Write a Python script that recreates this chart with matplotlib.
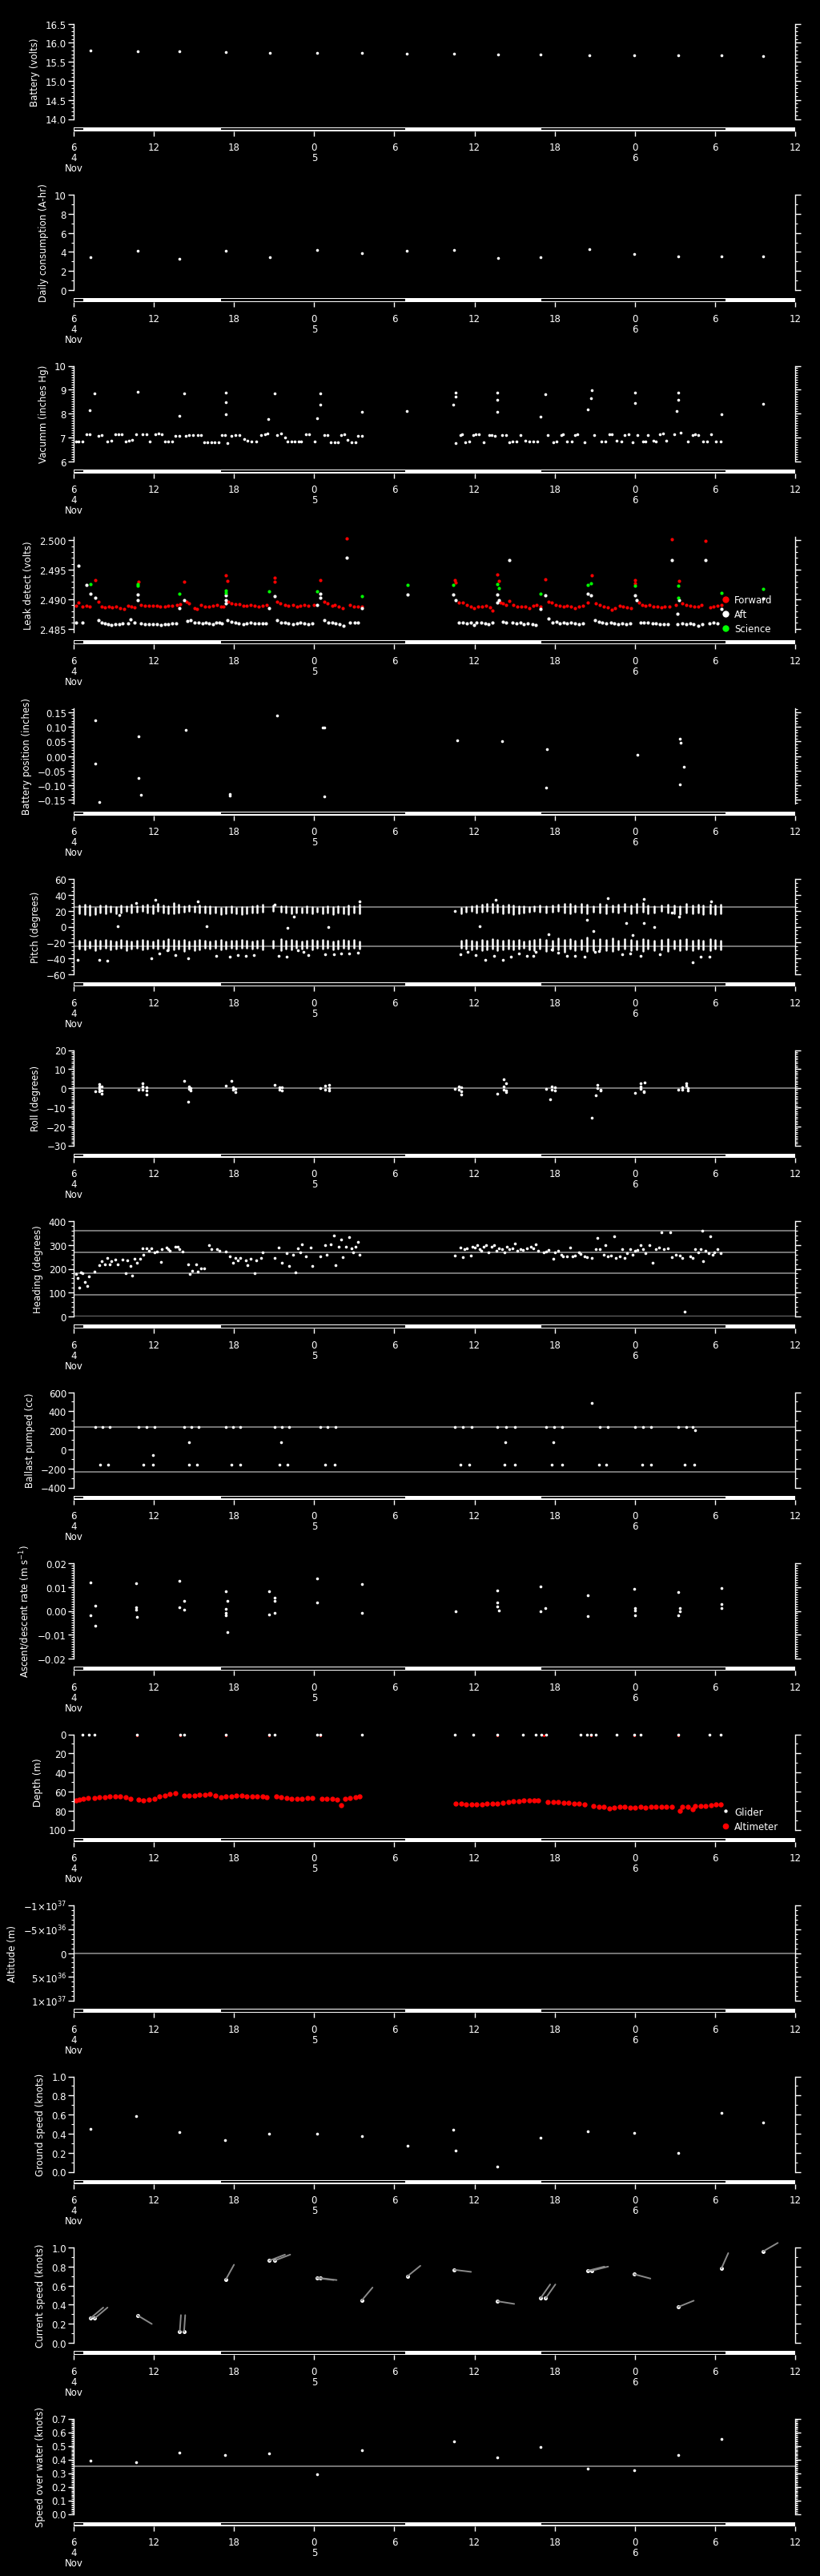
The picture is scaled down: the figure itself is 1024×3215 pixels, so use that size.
import numpy as np
import matplotlib
matplotlib.use('Agg')
import matplotlib.pyplot as plt
from matplotlib.patches import Rectangle
from matplotlib.ticker import MultipleLocator, AutoMinorLocator, FixedLocator, FixedFormatter, FuncFormatter

# time axis in hours since 4 Nov 00:00
T0, T1 = 6, 60
tick_hours = [6, 12, 18, 24, 30, 36, 42, 48, 54, 60]
tick_labels = ['6\n4\nNov', '12', '18', '0\n5', '6', '12', '18', '0\n6', '6', '12']
night_spans = [(6.05, 6.74), (17.03, 30.8), (40.98, 54.79)]

# surfacing times
surf_t = [7.25, 10.77, 13.94, 17.38, 20.67, 24.19, 27.56, 30.96, 34.48, 37.77,
          40.94, 44.58, 47.94, 51.23, 54.47, 57.60]
battery_v = [15.80, 15.77, 15.77, 15.75, 15.74, 15.74, 15.73, 15.71, 15.71, 15.69,
             15.69, 15.68, 15.68, 15.66, 15.66, 15.65]
consumption_v = [3.45, 4.09, 3.30, 4.12, 3.45, 4.20, 3.87, 4.15, 4.20, 3.36,
                 3.45, 4.29, 3.75, 3.53, 3.50, 3.53]

vacuum_pts = [
    (6.16, 6.84), (6.35, 6.84), (6.63, 6.84), (6.94, 7.12), (7.21, 7.12), (7.84, 7.07), (8.11, 7.09),
    (8.50, 6.84), (8.82, 6.85), (9.09, 7.11), (9.37, 7.13), (9.60, 7.14), (9.87, 6.84), (10.15, 6.85),
    (10.38, 6.88), (10.66, 7.12), (11.13, 7.12), (11.44, 7.14), (11.71, 6.84), (12.10, 7.13), (12.34, 7.15),
    (12.61, 7.12), (12.81, 6.82), (13.08, 6.82), (13.40, 6.82), (13.63, 7.07), (13.91, 7.07), (14.37, 7.07),
    (14.65, 7.09), (14.96, 7.09), (15.27, 7.09), (15.55, 7.09), (15.74, 6.80), (16.02, 6.80), (16.29, 6.80),
    (16.57, 6.80), (16.84, 6.80), (17.11, 7.08), (17.31, 7.09), (17.51, 6.74), (17.78, 7.07), (18.09, 7.08),
    (18.40, 7.09), (18.76, 6.93), (19.03, 6.86), (19.31, 6.84), (19.66, 6.84), (20.05, 7.10), (20.32, 7.13),
    (20.52, 7.17), (21.22, 7.10), (21.50, 7.16), (21.81, 6.98), (22.00, 6.84), (22.28, 6.84), (22.55, 6.84),
    (22.83, 6.84), (23.02, 6.84), (23.37, 7.11), (23.65, 7.13), (24.04, 6.84), (24.74, 7.08), (25.02, 7.10),
    (25.21, 6.80), (25.53, 6.80), (25.76, 6.80), (26.00, 7.10), (26.23, 7.14), (26.50, 6.89), (26.78, 6.80),
    (27.09, 6.80), (27.29, 7.07), (27.56, 7.07),
    (34.60, 6.74), (34.92, 7.08), (35.07, 7.12), (35.31, 6.80), (35.58, 6.82), (35.90, 7.08), (36.09, 7.11),
    (36.33, 7.14), (36.68, 6.80), (37.11, 7.09), (37.31, 7.08), (37.50, 7.05), (38.05, 7.08), (38.36, 7.10),
    (38.63, 6.80), (38.83, 6.83), (39.14, 6.83), (39.42, 7.08), (39.81, 6.85), (40.08, 6.82), (40.40, 6.82),
    (40.71, 6.82), (41.49, 7.08), (41.88, 6.80), (42.16, 6.82), (42.47, 7.09), (42.63, 7.14), (42.94, 6.84),
    (43.25, 6.82), (43.53, 7.08), (43.72, 7.12), (44.23, 6.80), (44.97, 7.08), (45.48, 6.82), (45.79, 6.83),
    (46.07, 7.12), (46.27, 7.14), (46.66, 6.86), (46.97, 6.84), (47.24, 7.10), (47.52, 7.14), (47.83, 6.80),
    (48.22, 7.09), (48.61, 6.82), (48.81, 6.84), (49.00, 7.10), (49.40, 6.86), (49.59, 6.83), (49.87, 7.12),
    (50.10, 7.16), (50.37, 6.87), (50.96, 7.12), (51.43, 7.19), (51.94, 6.82), (52.33, 7.10), (52.53, 7.13),
    (52.72, 7.08), (53.11, 6.82), (53.39, 6.82), (53.70, 7.14), (54.09, 6.82), (54.40, 6.82),
    (7.21, 8.12), (7.57, 8.85), (10.77, 8.90), (14.26, 8.84), (13.94, 7.90), (17.39, 8.88), (17.39, 8.47),
    (17.39, 7.98), (20.59, 7.77), (21.03, 8.83), (24.19, 7.80), (24.43, 8.83), (24.43, 8.36), (27.56, 8.07),
    (30.96, 8.11), (34.41, 8.36), (34.60, 8.86), (34.60, 8.72), (37.73, 8.86), (37.73, 8.56), (37.73, 8.08),
    (40.94, 7.85), (41.33, 8.82), (44.50, 8.18), (44.70, 8.63), (44.78, 8.98), (48.02, 8.88), (48.02, 8.45),
    (51.23, 8.88), (51.23, 8.58), (51.15, 8.09), (54.48, 7.95), (57.61, 8.42),
]

forward_pts = [
    (6.16, 2.4889), (6.35, 2.4895), (6.67, 2.4888), (6.94, 2.4889), (7.21, 2.4887), (7.61, 2.4932),
    (7.84, 2.4896), (8.11, 2.4888), (8.31, 2.4886), (8.62, 2.4887), (8.90, 2.4886), (9.17, 2.4888),
    (9.48, 2.4885), (9.76, 2.4884), (10.07, 2.4889), (10.34, 2.4887), (10.54, 2.4886), (10.85, 2.4930),
    (11.05, 2.4890), (11.36, 2.4889), (11.64, 2.4889), (11.91, 2.4889), (12.22, 2.4889), (12.50, 2.4888),
    (12.81, 2.4888), (13.08, 2.4889), (13.40, 2.4889), (13.71, 2.4890), (13.98, 2.4892), (14.26, 2.4930),
    (14.45, 2.4896), (14.65, 2.4893), (15.04, 2.4885), (15.24, 2.4883), (15.55, 2.4890), (15.82, 2.4888),
    (16.14, 2.4887), (16.41, 2.4889), (16.72, 2.4890), (17.00, 2.4887), (17.23, 2.4888), (17.39, 2.4940),
    (17.50, 2.4931), (17.58, 2.4896), (17.78, 2.4893), (18.09, 2.4891), (18.40, 2.4892), (18.68, 2.4889),
    (18.95, 2.4889), (19.27, 2.4890), (19.54, 2.4889), (19.85, 2.4888), (20.13, 2.4889), (20.44, 2.4890),
    (21.03, 2.4936), (21.03, 2.4930), (21.22, 2.4896), (21.46, 2.4893), (21.81, 2.4890), (22.08, 2.4889),
    (22.40, 2.4890), (22.71, 2.4888), (22.98, 2.4889), (23.26, 2.4890), (23.57, 2.4889), (23.96, 2.4890),
    (24.43, 2.4933), (24.74, 2.4896), (25.02, 2.4893), (25.33, 2.4889), (25.53, 2.4890), (25.84, 2.4888),
    (26.11, 2.4885), (26.43, 2.5003), (26.70, 2.4890), (26.97, 2.4888), (27.29, 2.4888), (27.56, 2.4887),
    (34.53, 2.4932), (34.60, 2.4928), (34.84, 2.4894), (35.11, 2.4894), (35.43, 2.4890), (35.70, 2.4887),
    (35.98, 2.4885), (36.29, 2.4887), (36.56, 2.4888), (36.87, 2.4889), (37.19, 2.4886), (37.34, 2.4881),
    (37.73, 2.4942), (37.85, 2.4931), (37.97, 2.4894), (38.12, 2.4893), (38.36, 2.4890), (38.63, 2.4897),
    (38.91, 2.4890), (39.22, 2.4888), (39.53, 2.4887), (39.81, 2.4888), (40.08, 2.4885), (40.40, 2.4889),
    (40.67, 2.4890), (40.94, 2.4888), (41.33, 2.4934), (41.57, 2.4896), (41.80, 2.4894), (42.08, 2.4890),
    (42.35, 2.4889), (42.67, 2.4888), (42.94, 2.4889), (43.21, 2.4887), (43.53, 2.4885), (43.84, 2.4888),
    (44.11, 2.4889), (44.50, 2.4894), (44.78, 2.4940), (45.09, 2.4893), (45.37, 2.4890), (45.68, 2.4888),
    (45.95, 2.4886), (46.27, 2.4882), (46.54, 2.4885), (46.85, 2.4889), (47.13, 2.4887), (47.44, 2.4886),
    (47.71, 2.4885), (48.03, 2.4933), (48.03, 2.4927), (48.30, 2.4894), (48.54, 2.4890), (48.81, 2.4889),
    (49.08, 2.4890), (49.40, 2.4888), (49.67, 2.4887), (49.98, 2.4886), (50.26, 2.4887), (50.57, 2.4888),
    (50.77, 2.5002), (51.04, 2.4890), (51.28, 2.4931), (51.55, 2.4893), (51.82, 2.4890), (52.14, 2.4889),
    (52.45, 2.4887), (52.72, 2.4888), (52.99, 2.4890), (53.31, 2.4999), (53.62, 2.4886), (53.89, 2.4888),
    (54.17, 2.4889), (54.48, 2.4890),
]

aft_pts = [
    (6.16, 2.4860), (6.35, 2.4957), (6.67, 2.4860), (6.94, 2.4924), (7.25, 2.4910), (7.61, 2.4902),
    (7.84, 2.4864), (8.11, 2.4860), (8.31, 2.4859), (8.58, 2.4858), (8.82, 2.4856), (9.09, 2.4857),
    (9.41, 2.4858), (9.68, 2.4859), (10.07, 2.4859), (10.27, 2.4866), (10.54, 2.4860), (10.77, 2.4908),
    (10.81, 2.4899), (11.05, 2.4859), (11.32, 2.4858), (11.64, 2.4857), (11.91, 2.4857), (12.22, 2.4858),
    (12.54, 2.4856), (12.81, 2.4857), (13.08, 2.4858), (13.40, 2.4859), (13.67, 2.4859), (13.94, 2.4885),
    (14.26, 2.4899), (14.49, 2.4863), (14.77, 2.4865), (15.04, 2.4860), (15.35, 2.4861), (15.63, 2.4859),
    (15.86, 2.4860), (16.14, 2.4859), (16.41, 2.4858), (16.68, 2.4860), (16.92, 2.4861), (17.11, 2.4859),
    (17.39, 2.4906), (17.39, 2.4899), (17.39, 2.4893), (17.50, 2.4865), (17.78, 2.4862), (18.09, 2.4860),
    (18.37, 2.4859), (18.68, 2.4858), (18.95, 2.4859), (19.27, 2.4860), (19.54, 2.4859), (19.85, 2.4859),
    (20.13, 2.4859), (20.36, 2.4859), (20.64, 2.4885), (21.03, 2.4905), (21.22, 2.4865), (21.50, 2.4861),
    (21.81, 2.4860), (22.08, 2.4859), (22.40, 2.4858), (22.71, 2.4859), (22.98, 2.4860), (23.26, 2.4859),
    (23.57, 2.4858), (23.88, 2.4859), (24.20, 2.4890), (24.43, 2.4909), (24.43, 2.4902), (24.74, 2.4864),
    (25.06, 2.4861), (25.33, 2.4860), (25.60, 2.4859), (25.92, 2.4858), (26.19, 2.4855), (26.43, 2.4971),
    (26.70, 2.4860), (27.01, 2.4861), (27.29, 2.4860), (27.56, 2.4885), (30.97, 2.4908),
    (34.41, 2.4908), (34.60, 2.4899), (34.84, 2.4861), (35.11, 2.4860), (35.43, 2.4859), (35.70, 2.4860),
    (35.94, 2.4856), (36.17, 2.4861), (36.48, 2.4860), (36.80, 2.4859), (37.07, 2.4858), (37.34, 2.4860),
    (37.73, 2.4908), (37.73, 2.4895), (37.85, 2.4899), (38.12, 2.4862), (38.36, 2.4861), (38.60, 2.4966),
    (38.83, 2.4860), (39.14, 2.4859), (39.42, 2.4860), (39.69, 2.4858), (40.00, 2.4859), (40.32, 2.4858),
    (40.59, 2.4856), (40.94, 2.4883), (41.33, 2.4906), (41.57, 2.4867), (41.84, 2.4861), (42.12, 2.4862),
    (42.35, 2.4859), (42.67, 2.4860), (42.94, 2.4859), (43.21, 2.4860), (43.53, 2.4859), (43.84, 2.4858),
    (44.11, 2.4859), (44.50, 2.4910), (44.70, 2.4906), (45.01, 2.4865), (45.29, 2.4862), (45.56, 2.4860),
    (45.87, 2.4859), (46.19, 2.4860), (46.46, 2.4859), (46.73, 2.4858), (47.05, 2.4859), (47.36, 2.4858),
    (47.64, 2.4859), (48.03, 2.4907), (48.14, 2.4899), (48.42, 2.4861), (48.69, 2.4860), (49.00, 2.4860),
    (49.32, 2.4859), (49.59, 2.4859), (49.87, 2.4858), (50.18, 2.4857), (50.49, 2.4858), (50.77, 2.4966),
    (51.16, 2.4875), (51.28, 2.4899), (51.16, 2.4857), (51.55, 2.4859), (51.82, 2.4858), (52.14, 2.4859),
    (52.41, 2.4857), (52.72, 2.4855), (53.03, 2.4858), (53.31, 2.4967), (53.58, 2.4859), (53.89, 2.4860),
    (54.17, 2.4859), (54.48, 2.4884), (57.61, 2.4901),
]

science_t = [7.25, 10.77, 10.81, 13.94, 17.39, 17.39, 20.64, 24.20, 27.56, 30.97, 34.41,
             37.73, 37.85, 40.94, 44.50, 44.70, 48.03, 51.24, 51.24, 54.48, 57.61]
science_v = [2.4926, 2.4926, 2.4923, 2.4909, 2.4915, 2.4911, 2.4914, 2.4914, 2.4905, 2.4924, 2.4924,
             2.4926, 2.4919, 2.4909, 2.4925, 2.4927, 2.4923, 2.4923, 2.4903, 2.4911, 2.4917]

batpos_t = [7.64, 7.64, 7.92, 10.85, 10.85, 11.05, 14.37, 17.70, 17.70, 21.22, 24.64,
            24.74, 24.74, 34.72, 38.05, 41.45, 41.37, 48.22, 51.35, 51.43, 51.66, 51.35]
batpos_v = [0.122, -0.027, -0.157, 0.068, -0.076, -0.132, 0.088, -0.130, -0.135, 0.139, 0.096,
            0.096, -0.139, 0.053, 0.051, 0.022, -0.108, 0.004, 0.058, 0.044, -0.038, -0.097]

# pitch: each dive leg shows as a vertical run of samples
pitch_leg_t = [6.43, 6.82, 7.21, 7.61, 8.00, 8.39, 8.78, 9.17, 9.56, 9.95, 10.34, 10.74, 11.13, 11.52,
               11.91, 12.30, 12.69, 13.08, 13.47, 13.87, 14.26, 14.65, 15.04, 15.43, 15.82, 16.21,
               16.60, 17.00, 17.39, 17.78, 18.17, 18.56, 18.95, 19.34, 19.73, 20.13, 20.91, 21.50,
               21.89, 22.28, 22.67, 23.06, 23.45, 23.84, 24.24, 24.63, 25.02, 25.41, 25.80, 26.19,
               26.58, 26.97, 27.37,
               34.99, 35.39, 35.78, 36.17, 36.56, 36.95, 37.34, 37.73, 38.12, 38.52, 38.91, 39.30,
               39.69, 40.08, 40.47, 40.87, 41.37, 41.84, 42.28, 42.74, 43.14, 43.53, 44.00, 44.43,
               44.90, 45.37, 45.87, 46.35, 46.77, 47.24, 47.71, 48.14, 48.61, 49.00, 49.48, 49.98,
               50.49, 50.96, 51.35, 51.82, 52.33, 52.72, 53.11, 53.62, 54.01, 54.40]
pitch_up_lo = [17, 16, 15, 16, 18, 17, 19, 17, 18, 20, 18, 19, 20, 18, 17, 20, 18, 17, 17, 18, 19, 20,
               19, 18, 18, 17, 18, 16, 17, 18, 17, 16, 17, 18, 18, 19, 20, 19, 18, 17, 18, 18, 18, 17,
               19, 17, 18, 16, 18, 17, 16, 18, 17,
               17, 19, 20, 18, 19, 20, 18, 19, 17, 18, 16, 17, 18, 19, 20, 19, 18, 19, 20, 18, 17, 19,
               18, 17, 19, 18, 17, 19, 18, 20, 17, 18, 19, 17, 18, 20, 18, 17, 16, 18, 17, 18, 16, 17,
               16, 17]
pitch_up_hi = [27, 28, 27, 24, 27, 27, 26, 25, 27, 26, 28, 26, 27, 28, 27, 29, 27, 26, 30, 28, 26, 27,
               26, 27, 26, 26, 25, 24, 25, 26, 24, 25, 25, 26, 27, 28, 27, 26, 26, 25, 25, 24, 26, 25,
               24, 25, 26, 25, 26, 25, 27, 26, 28,
               24, 25, 26, 27, 28, 29, 29, 28, 27, 28, 27, 26, 26, 25, 26, 27, 26, 27, 28, 29, 29, 27,
               29, 28, 26, 29, 28, 27, 28, 29, 27, 29, 30, 27, 26, 27, 28, 27, 26, 29, 27, 28, 27, 28,
               27, 28]
pitch_dn_lo = [-28, -29, -27, -30, -28, -27, -29, -28, -27, -30, -28, -27, -29, -28, -27, -28, -27, -30,
               -29, -28, -31, -28, -30, -29, -27, -28, -27, -29, -28, -27, -28, -27, -27, -28, -27, -29,
               -27, -30, -28, -29, -27, -28, -27, -29, -27, -28, -27, -29, -28, -27, -28, -27, -28,
               -27, -28, -29, -28, -30, -29, -28, -30, -29, -28, -29, -28, -27, -29, -30, -28, -31, -30,
               -29, -32, -28, -30, -29, -31, -30, -29, -30, -31, -29, -28, -30, -29, -31, -28, -30, -29,
               -31, -28, -30, -29, -30, -28, -29, -30, -28, -29]
pitch_dn_hi = [-18, -17, -19, -17, -18, -17, -18, -19, -17, -18, -19, -18, -17, -18, -19, -17, -18, -16,
               -17, -18, -17, -19, -18, -17, -18, -19, -18, -17, -19, -18, -18, -17, -18, -19, -18, -17,
               -18, -16, -18, -17, -18, -19, -18, -17, -18, -17, -18, -19, -18, -17, -18, -17, -19,
               -18, -17, -18, -19, -17, -18, -16, -17, -18, -17, -18, -17, -19, -18, -17, -16, -17, -18,
               -15, -17, -16, -18, -17, -14, -17, -16, -17, -15, -18, -16, -17, -18, -16, -17, -18, -17,
               -16, -18, -17, -16, -18, -17, -18, -16, -17, -18]
pitch_extra = [
    (6.27, -42.3), (7.92, -42.3), (8.50, -43.0), (9.29, 0.3), (9.41, 14.3), (10.66, 30.0), (11.83, -39.7),
    (12.10, 33.3), (12.42, -33.3), (13.00, -30.0), (13.59, -35.7), (14.57, -40.0), (15.27, 31.7),
    (15.94, 0.3), (16.64, -36.7), (17.70, -38.3), (18.29, -35.7), (18.87, -36.7), (19.46, -36.3),
    (21.03, 27.7), (21.34, -36.7), (21.93, -38.3), (22.00, -1.7), (22.47, 12.7), (22.79, -29.7),
    (23.18, -31.7), (23.57, -35.7), (24.82, -35.0), (25.06, 0.0), (25.45, -34.7), (25.99, -34.0),
    (26.62, -34.0), (27.29, -32.3), (27.40, 31.7), (34.53, 19.3), (34.92, -34.7), (35.51, -31.3),
    (36.09, -35.7), (36.37, 1.0), (36.80, -41.7), (37.46, -36.7), (37.58, 33.3), (38.12, -41.7),
    (38.71, -38.3), (39.30, -34.0), (39.93, -36.7), (40.40, -36.7), (40.59, -31.7), (41.57, -10.0),
    (41.76, -29.0), (42.28, -33.0), (42.94, -36.7), (43.53, -37.3), (44.23, -38.0), (44.39, 8.3),
    (44.90, -5.7), (45.01, -31.7), (45.29, -30.7), (45.95, 35.7), (47.05, -35.0), (47.36, 4.3),
    (47.64, -34.0), (47.83, -10.7), (48.42, -36.7), (48.69, 5.0), (48.69, 34.7), (49.48, -0.7),
    (49.87, -35.0), (50.80, 17.7), (51.28, 12.7), (52.33, -44.7), (52.92, -38.3), (53.58, -38.3),
    (53.70, 32.0),
]

roll_pts = [
    (7.64, -1.5), (7.92, 2.0), (7.92, 0.8), (7.92, -0.5), (7.92, -1.8), (8.11, 1.0), (8.11, -1.2),
    (8.11, -3.0), (10.85, -1.0), (11.13, 2.7), (11.13, 1.0), (11.13, -0.8), (11.44, 0.5), (11.44, -1.3),
    (11.44, -3.4), (14.26, 4.0), (14.57, -7.3), (14.65, 0.8), (14.65, -0.5), (14.77, 0.2), (14.77, -1.4),
    (17.39, 1.4), (17.78, 4.0), (17.90, 0.5), (17.90, -1.0), (18.09, -0.3), (18.09, -2.0), (21.03, 1.6),
    (21.42, 0.6), (21.42, -0.9), (21.61, 0.3), (21.61, -1.2), (24.43, 0.0), (24.82, 1.2), (24.82, -0.6),
    (25.13, 1.8), (25.13, 0.2), (25.13, -1.4), (34.53, -0.4), (34.84, 0.9), (34.84, -1.0), (35.03, 0.3),
    (35.03, -1.8), (35.03, -3.2), (37.73, -2.7), (38.16, 4.5), (38.36, 2.7), (38.20, 0.8), (38.20, -0.6),
    (38.36, -1.4), (38.36, -2.2), (41.37, -0.2), (41.69, -5.9), (41.76, 1.0), (41.76, -0.7), (42.04, 0.4),
    (42.04, -1.2), (44.78, -15.4), (45.09, -3.8), (45.17, 1.8), (45.17, 0.2), (45.41, -0.8), (45.41, -1.4),
    (48.03, -2.5), (48.42, 2.7), (48.73, 3.0), (48.42, 1.0), (48.42, -0.5), (48.69, -1.5), (48.69, -2.0),
    (51.24, -0.7), (51.55, 0.5), (51.55, -1.0), (51.82, 2.5), (51.82, 1.2), (51.94, 0.0), (51.94, -1.4),
]

heading_pts = [
    (6.16, 179), (6.27, 162), (6.43, 122), (6.55, 185), (6.67, 181), (6.86, 145), (7.02, 128), (7.14, 168),
    (7.53, 187), (7.92, 216), (8.11, 232), (8.31, 219), (8.50, 247), (8.70, 219), (8.82, 232), (9.09, 238),
    (9.29, 219), (9.68, 238), (9.87, 181), (9.99, 236), (10.27, 213), (10.38, 173), (10.58, 241),
    (10.74, 224), (10.97, 241), (11.13, 287), (11.24, 258), (11.44, 287), (11.64, 275), (11.83, 287),
    (12.03, 270), (12.22, 272), (12.54, 230), (12.61, 281), (12.93, 290), (13.08, 281), (13.20, 275),
    (13.59, 292), (13.79, 292), (13.91, 281), (14.18, 272), (14.57, 219), (14.69, 179), (14.88, 190),
    (15.16, 219), (15.27, 187), (15.55, 202), (15.74, 202), (16.14, 298), (16.33, 284), (16.72, 281),
    (16.92, 275), (17.39, 272), (17.70, 253), (17.90, 224), (18.09, 247), (18.29, 236), (18.48, 247),
    (18.87, 236), (18.99, 215), (19.27, 241), (19.54, 181), (19.66, 236), (20.05, 247), (20.17, 270),
    (21.03, 247), (21.34, 290), (21.61, 226), (21.93, 267), (22.12, 213), (22.40, 258), (22.63, 185),
    (22.79, 287), (22.98, 270), (23.10, 301), (23.37, 253), (23.77, 289), (23.88, 211), (24.43, 253),
    (24.82, 298), (24.94, 258), (25.25, 301), (25.45, 341), (25.60, 215), (25.84, 294), (25.99, 324),
    (26.11, 250), (26.39, 292), (26.62, 332), (26.78, 287), (26.90, 270), (27.09, 292), (27.29, 313),
    (27.40, 258),
    (34.53, 255), (34.92, 289), (35.11, 249), (35.23, 281), (35.43, 287), (35.70, 255), (35.82, 292),
    (36.01, 289), (36.21, 298), (36.37, 281), (36.48, 275), (36.68, 292), (36.87, 298), (37.07, 270),
    (37.27, 294), (37.46, 298), (37.66, 275), (37.85, 287), (38.05, 281), (38.24, 270), (38.44, 292),
    (38.63, 281), (38.83, 287), (39.03, 306), (39.22, 275), (39.42, 281), (39.61, 279), (39.93, 287),
    (40.20, 294), (40.40, 287), (40.59, 304), (40.79, 277), (41.18, 270), (41.37, 272), (41.57, 279),
    (41.88, 241), (42.04, 270), (42.28, 275), (42.47, 258), (42.63, 253), (42.94, 253), (43.14, 290),
    (43.33, 253), (43.53, 256), (43.80, 270), (43.92, 262), (44.23, 253), (44.43, 250), (44.78, 247),
    (45.09, 283), (45.21, 330), (45.40, 281), (45.68, 260), (45.79, 298), (45.99, 253), (46.19, 255),
    (46.46, 337), (46.58, 245), (46.85, 253), (47.05, 281), (47.24, 247), (47.44, 267), (47.64, 283),
    (47.83, 260), (48.03, 275), (48.22, 279), (48.42, 298), (48.61, 281), (48.81, 267), (49.12, 298),
    (49.32, 226), (49.59, 284), (49.79, 289), (49.98, 354), (50.18, 281), (50.49, 287), (50.65, 352),
    (50.77, 249), (51.04, 258), (51.35, 255), (51.55, 247), (51.74, 20), (52.14, 253), (52.33, 247),
    (52.53, 281), (52.72, 270), (52.92, 281), (53.03, 360), (53.11, 232), (53.31, 275), (53.50, 264),
    (53.62, 337), (53.82, 258), (53.93, 270), (54.21, 283), (54.40, 266),
]

ballast_pts = [
    (7.61, 233), (8.15, 233), (8.70, 233), (10.85, 233), (11.44, 233), (12.07, 233), (14.26, 233),
    (14.81, 233), (15.35, 233), (17.39, 233), (17.94, 233), (18.48, 233), (21.03, 233), (21.61, 233),
    (22.12, 233), (24.43, 233), (25.02, 233), (25.60, 233), (34.53, 233), (35.11, 233), (35.78, 233),
    (37.73, 233), (38.36, 233), (39.03, 233), (41.37, 233), (41.96, 233), (42.55, 233), (45.37, 233),
    (45.95, 233), (48.03, 233), (48.61, 233), (49.20, 233), (51.24, 233), (51.82, 233), (52.33, 233),
    (52.53, 203),
    (8.00, -158), (8.58, -158), (11.24, -158), (11.91, -158), (14.65, -158), (15.20, -158), (17.78, -158),
    (18.48, -158), (21.42, -158), (22.00, -158), (24.82, -158), (25.53, -158), (34.92, -158),
    (35.62, -158), (38.24, -158), (39.03, -158), (41.76, -158), (42.55, -158), (45.29, -158),
    (45.87, -158), (48.54, -158), (49.20, -158), (51.74, -158), (52.45, -158),
    (11.95, -61), (14.65, 78), (21.50, 78), (38.32, 78), (41.88, 72), (44.78, 486),
]

ascent_pts = [
    (7.25, 0.0119), (7.25, -0.0017), (7.61, 0.0022), (7.61, -0.0062), (10.66, 0.0116), (10.66, 0.0016),
    (10.66, 0.0006), (10.74, -0.0026), (13.94, 0.0127), (13.94, 0.0016), (14.26, 0.0043), (14.26, 0.0004),
    (17.39, 0.0082), (17.50, 0.0043), (17.39, 0.0008), (17.39, -0.0007), (17.39, -0.0020),
    (17.50, -0.0089), (20.64, 0.0082), (20.64, -0.0014), (21.03, 0.0054), (21.03, 0.0043),
    (21.03, -0.0009), (24.20, 0.0136), (24.20, 0.0036), (27.56, 0.0113), (27.56, -0.0009), (34.60, 0.0000),
    (37.73, 0.0086), (37.73, 0.0036), (37.73, 0.0019), (37.85, 0.0002), (40.94, 0.0104), (40.94, 0.0000),
    (41.33, 0.0011), (44.50, 0.0067), (44.50, -0.0022), (47.95, 0.0094), (48.03, 0.0013), (48.03, 0.0002),
    (48.03, -0.0018), (51.24, 0.0078), (51.24, -0.0020), (51.35, 0.0013), (51.35, 0.0000), (54.48, 0.0097),
    (54.48, 0.0030), (54.48, 0.0013),
]

altimeter_pts = [
    (6.16, 69.3), (6.43, 68.2), (6.74, 67.3), (7.06, 66.5), (7.53, 66.5), (7.92, 65.9), (8.31, 65.9),
    (8.70, 65.4), (9.09, 65.4), (9.48, 65.1), (9.87, 65.9), (10.27, 67.6), (10.85, 68.2), (11.24, 69.3),
    (11.64, 68.7), (12.03, 67.3), (12.42, 65.4), (12.81, 63.9), (13.20, 62.5), (13.59, 61.7), (14.26, 63.9),
    (14.65, 63.9), (15.04, 63.9), (15.43, 63.7), (15.82, 63.7), (16.21, 62.5), (16.60, 64.5), (17.00, 65.9),
    (17.39, 65.4), (17.78, 65.1), (18.17, 63.9), (18.56, 64.5), (18.95, 64.8), (19.34, 65.1), (19.73, 65.4),
    (20.13, 65.4), (20.44, 65.9), (21.14, 65.4), (21.54, 65.9), (21.93, 66.5), (22.32, 67.3), (22.71, 67.3),
    (23.10, 67.3), (23.49, 67.0), (23.88, 66.8), (24.55, 67.3), (24.94, 67.6), (25.33, 67.9), (25.72, 68.2),
    (26.03, 74.4), (26.31, 67.3), (26.70, 66.5), (27.09, 65.9), (27.40, 65.4),
    (34.60, 73.0), (34.99, 73.0), (35.39, 73.2), (35.78, 73.5), (36.17, 73.5), (36.56, 73.2), (36.95, 73.0),
    (37.34, 72.7), (37.73, 72.7), (38.12, 72.1), (38.52, 71.3), (38.91, 70.4), (39.30, 69.9), (39.69, 69.3),
    (40.08, 69.3), (40.47, 69.3), (40.79, 69.6), (41.49, 71.0), (41.88, 71.0), (42.28, 71.3), (42.67, 71.5),
    (43.06, 72.1), (43.45, 72.7), (43.84, 73.0), (44.23, 73.2), (44.90, 74.9), (45.29, 75.8), (45.68, 76.3),
    (46.07, 77.7), (46.46, 76.6), (46.85, 76.3), (47.24, 76.3), (47.64, 76.6), (48.03, 76.6), (48.42, 76.3),
    (48.81, 76.6), (49.20, 76.3), (49.59, 76.1), (49.98, 75.8), (50.37, 76.1), (50.77, 76.3), (51.35, 80.6),
    (51.55, 76.3), (51.94, 75.8), (52.33, 78.6), (52.53, 75.5), (52.92, 75.2), (53.31, 74.9), (53.70, 74.4),
    (54.09, 73.8), (54.40, 73.2),
]
altimeter_surface_t = [10.74, 13.98, 17.39, 20.64, 24.43, 37.73, 41.18, 44.70, 47.95, 51.24]
altimeter_surface_v = [1.0, 1.0, 1.0, 1.0, 1.0, 1.0, 1.0, 1.0, 1.0, 1.0]
glider_surface_t = [6.63, 7.14, 7.53, 10.74, 13.98, 14.26, 17.39, 20.64, 21.03, 24.20, 24.43, 27.56,
                    34.53, 35.90, 37.73, 39.61, 40.59, 40.98, 41.37, 43.92, 44.39, 44.70, 45.09,
                    46.66, 47.95, 48.42, 51.24, 53.58, 54.40]
glider_surface_v = [0, 0, 0, 0, 0, 0, 0, 0, 0, 0, 0, 0, 0, 0, 0, 0, 0, 0, 0, 0, 0, 0, 0, 0, 0, 0, 0, 0, 0]

ground_t = [7.25, 10.66, 13.94, 17.31, 20.64, 24.20, 27.56, 30.97, 34.41, 34.60, 37.73, 40.94,
            44.50, 47.95, 51.24, 54.48, 57.61]
ground_v = [0.45, 0.587, 0.417, 0.33, 0.40, 0.40, 0.376, 0.275, 0.445, 0.225, 0.055, 0.353,
            0.422, 0.404, 0.197, 0.62, 0.514]

current_t = [7.25, 7.57, 10.77, 13.94, 14.26, 17.39, 20.64, 21.03, 24.20, 24.43, 27.56, 30.97,
             34.49, 37.73, 40.94, 41.33, 44.50, 44.78, 47.95, 51.24, 54.48, 57.61]
current_v = [0.257, 0.257, 0.289, 0.115, 0.115, 0.665, 0.862, 0.862, 0.68, 0.68, 0.445, 0.697,
             0.766, 0.436, 0.468, 0.468, 0.757, 0.757, 0.72, 0.376, 0.78, 0.96]
current_dir = [40, 40, -31, 86, 86, 61, 21, 21, -7, -7, 50, 39, -7, -9, 55, 55, 14, 14, -15, 22, 66, 30]

water_t = [7.25, 10.66, 13.94, 17.31, 20.64, 24.20, 27.56, 34.49, 37.73, 40.94, 44.50, 47.95, 51.24, 54.48]
water_v = [0.389, 0.382, 0.449, 0.43, 0.443, 0.29, 0.468, 0.535, 0.417, 0.49, 0.331, 0.318, 0.43, 0.548]

# ---------------------------------------------------------------------------
W, H = 1024, 3216
X0, X1 = 92, 993
STEP = 213.5
GRAY = '#8a8a8a'
MS = 2.6
FS = 8.5

plt.rcParams['font.family'] = ['DejaVu Sans']
fig = plt.figure(figsize=(W / 100, H / 100), dpi=100, facecolor='black')


def num_fmt(digits):
    def f(v, pos):
        return f'{round(v, 6) + 0.0:.{digits}f}'.replace('-', '\u2212')
    return FuncFormatter(f)


def make_panel(i, label, ylim, major, minor, digits=None, fixed=None):
    bar_top = 159.5 + STEP * i
    ax = fig.add_axes([X0 / W, 1 - (bar_top - 10) / H, (X1 - X0) / W, 119 / H])
    bar = fig.add_axes([X0 / W, 1 - (bar_top + 5) / H, (X1 - X0) / W, 5 / H])

    ax.set_facecolor('black')
    ax.set_xlim(T0, T1)
    ax.set_ylim(*ylim)
    for s in ['top', 'bottom']:
        ax.spines[s].set_visible(False)
    for s in ['left', 'right']:
        ax.spines[s].set_color('white')
        ax.spines[s].set_linewidth(1)
    ax.tick_params(axis='x', which='both', bottom=False, labelbottom=False)
    ax.tick_params(axis='y', which='both', left=True, right=True, direction='out',
                   colors='white', labelsize=FS, pad=1.5, width=1)
    ax.tick_params(axis='y', which='major', length=5)
    ax.tick_params(axis='y', which='minor', length=2.5, width=0.8)
    if fixed is not None:
        ax.yaxis.set_major_locator(FixedLocator(fixed[0]))
        ax.yaxis.set_major_formatter(FixedFormatter(fixed[1]))
    else:
        ax.yaxis.set_major_locator(MultipleLocator(major))
        ax.yaxis.set_major_formatter(num_fmt(digits))
    ax.yaxis.set_minor_locator(AutoMinorLocator(minor))
    ax.set_ylabel(label, color='white', fontsize=FS, labelpad=5)

    # day / night bar with the time axis
    bar.set_facecolor('black')
    bar.set_xlim(T0, T1)
    bar.set_ylim(0, 1)
    bar.add_patch(Rectangle((T0, 0), T1 - T0, 1, facecolor='white', edgecolor='none'))
    for s, e in night_spans:
        bar.add_patch(Rectangle((s, 0.24), e - s, 0.52, facecolor='black', edgecolor='none'))
    for s in bar.spines.values():
        s.set_visible(False)
    bar.set_yticks([])
    bar.set_xticks(tick_hours, tick_labels)
    bar.tick_params(axis='x', direction='out', length=4, width=1, colors='white',
                    labelsize=FS, pad=6)
    for lbl in bar.get_xticklabels():
        lbl.set_linespacing(1.0)
    return ax


def dots(ax, t, v, color='white', ms=MS, label=None, clip=True):
    h, = ax.plot(t, v, 'o', ls='none', color=color, ms=ms, mew=0, label=label, clip_on=clip)
    return h


def legend(ax, handles, scale=2.0):
    ax.legend(handles=handles, loc='lower left', bbox_to_anchor=(0.9, -0.02), frameon=False,
              fontsize=FS, labelcolor='white', handlelength=0.6, handletextpad=0.6,
              labelspacing=0.45, borderpad=0, borderaxespad=0, markerscale=scale)


# 1 battery
ax = make_panel(0, 'Battery (volts)', (14.0, 16.5), 0.5, 5, 1)
dots(ax, surf_t, battery_v)

# 2 daily consumption
ax = make_panel(1, 'Daily consumption (A-hr)', (0, 10), 2, 2, 0)
dots(ax, surf_t, consumption_v)

# 3 vacuum
ax = make_panel(2, 'Vacumm (inches Hg)', (6, 10), 1, 10, 0)
vt, vv = zip(*vacuum_pts)
dots(ax, vt, vv)

# 4 leak detect
ax = make_panel(3, 'Leak detect (volts)', (2.4844, 2.5006), 0.005, 5, 3)
ft, fv = zip(*forward_pts)
at, av = zip(*aft_pts)
h1 = dots(ax, ft, fv, color='#ff0000', ms=3.0, label='Forward')
h2 = dots(ax, at, av, ms=3.0, label='Aft')
h3 = dots(ax, science_t, science_v, color='#00ff00', ms=3.0, label='Science')
legend(ax, [h1, h2, h3])

# 5 battery position
ax = make_panel(4, 'Battery position (inches)', (-0.161, 0.164), 0.05, 5, 2)
dots(ax, batpos_t, batpos_v, clip=False)

# 6 pitch
ax = make_panel(5, 'Pitch (degrees)', (-60, 60), 20, 4, 0)
for yv in (25, -25):
    ax.axhline(yv, color=GRAY, lw=1.2, zorder=1)
lc = ax.vlines(pitch_leg_t, pitch_up_lo, pitch_up_hi, colors='white', lw=1.8, zorder=2)
lc.set_capstyle('round')
lc = ax.vlines(pitch_leg_t, pitch_dn_lo, pitch_dn_hi, colors='white', lw=1.8, zorder=2)
lc.set_capstyle('round')
pt, pv = zip(*pitch_extra)
dots(ax, pt, pv)

# 7 roll
ax = make_panel(6, 'Roll (degrees)', (-30, 20), 10, 10, 0)
ax.axhline(0, color=GRAY, lw=1.2, zorder=1)
rt, rv = zip(*roll_pts)
dots(ax, rt, rv)

# 8 heading
ax = make_panel(7, 'Heading (degrees)', (0, 400), 100, 5, 0)
for yv in (0, 90, 180, 270, 360):
    ax.axhline(yv, color=GRAY, lw=1.2, zorder=1)
ht, hv = zip(*heading_pts)
dots(ax, ht, hv)

# 9 ballast
ax = make_panel(8, 'Ballast pumped (cc)', (-400, 600), 200, 2, 0)
for yv in (233, -233):
    ax.axhline(yv, color=GRAY, lw=1.2, zorder=1)
bt, bv = zip(*ballast_pts)
dots(ax, bt, bv)

# 10 ascent / descent rate
ax = make_panel(9, 'Ascent/descent rate (m s$^{-1}$)', (-0.02, 0.02), 0.01, 10, 2)
st, sv = zip(*ascent_pts)
dots(ax, st, sv)

# 11 depth
ax = make_panel(10, 'Depth (m)', (100, 0), 20, 2, 0)
dt, dv = zip(*altimeter_pts)
dots(ax, altimeter_surface_t, altimeter_surface_v, color='#ff0000', ms=2.2, clip=False)
h1 = dots(ax, glider_surface_t, glider_surface_v, label='Glider', clip=False)
h2 = dots(ax, dt, dv, color='#ff0000', ms=4.6, label='Altimeter', clip=False)
legend(ax, [h1, h2], scale=1.2)

# 12 altitude (no valid data)
alt_ticks = [-1e37, -5e36, 0, 5e36, 1e37]
alt_labels = [r'$-1{\times}10^{37}$', r'$-5{\times}10^{36}$', '0', r'$5{\times}10^{36}$', r'$1{\times}10^{37}$']
ax = make_panel(11, 'Altitude (m)', (1e37, -1e37), None, 5, fixed=(alt_ticks, alt_labels))
ax.axhline(0, color=GRAY, lw=1.2, zorder=1)

# 13 ground speed
ax = make_panel(12, 'Ground speed (knots)', (0, 1.0), 0.2, 2, 1)
dots(ax, ground_t, ground_v)

# 14 current speed with direction sticks
ax = make_panel(13, 'Current speed (knots)', (0, 1.0), 0.2, 2, 1)
for t, v, d in zip(current_t, current_v, current_dir):
    a = np.deg2rad(d)
    ax.annotate('', xy=(t, v), xycoords='data', xytext=(21 * np.cos(a), 21 * np.sin(a)),
                textcoords='offset pixels',
                arrowprops=dict(arrowstyle='-', color=GRAY, lw=1.4, shrinkA=0, shrinkB=0))
dots(ax, current_t, current_v, ms=3.6)

# 15 speed over water
ax = make_panel(14, 'Speed over water (knots)', (0, 0.7), 0.1, 10, 1)
ax.axhline(0.35, color=GRAY, lw=1.2, zorder=1)
dots(ax, water_t, water_v)

fig.savefig('out.png', dpi=100, facecolor='black')
